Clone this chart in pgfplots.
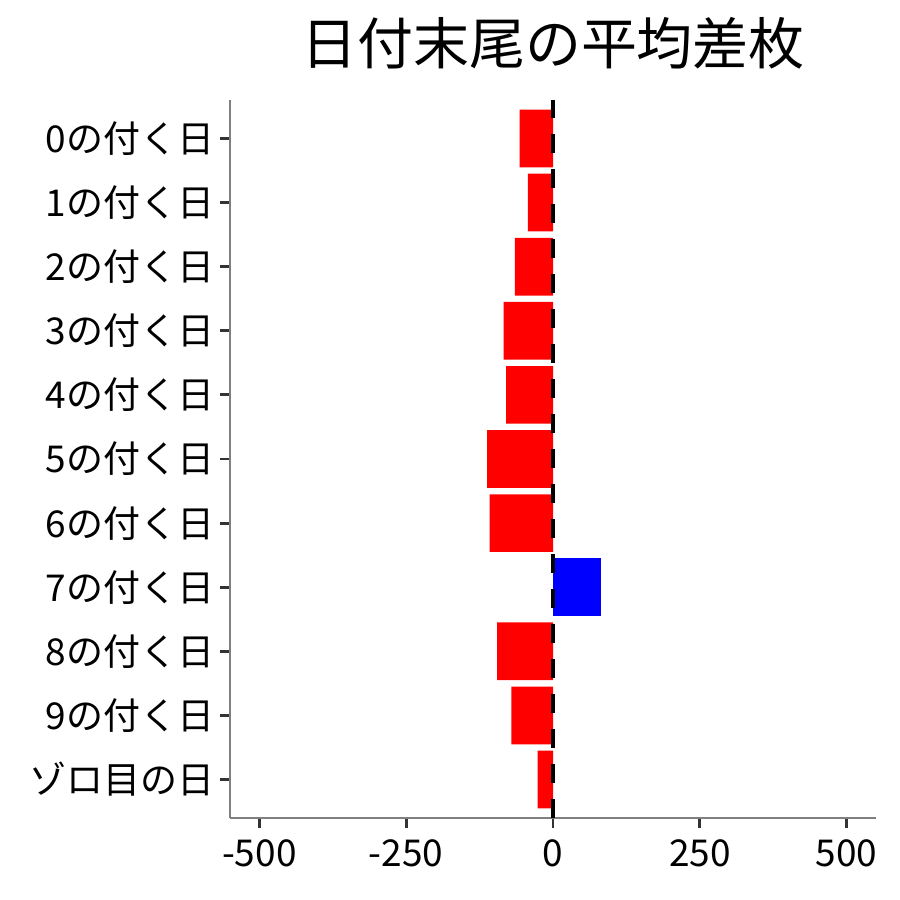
\documentclass[border=0pt]{standalone}
\usepackage{fontspec}
\setmainfont{Noto Sans CJK JP}
\usepackage{pgfplots}
\pgfplotsset{compat=1.18}
\definecolor{axisgray}{HTML}{808080}
\definecolor{tickgray}{HTML}{333333}
\begin{document}
\begin{tikzpicture}
\useasboundingbox (-230pt,-82pt) rectangle (670pt,818pt);
\begin{axis}[
    scale only axis,
    width=646pt, height=718pt,
    xmin=-550, xmax=550,
    ymin=0.4, ymax=11.6,
    y dir=reverse,
    axis x line*=bottom,
    axis y line*=left,
    axis line style={draw=axisgray, line width=1.3pt},
    tick align=outside,
    major tick length=10pt,
    tick style={draw=tickgray, line width=2.8pt},
    xtick={-500,-250,0,250,500},
    xticklabels={-500,-250,0,250,500},
    ytick={1,...,11},
    yticklabels={0の付く日,1の付く日,2の付く日,3の付く日,4の付く日,5の付く日,6の付く日,7の付く日,8の付く日,9の付く日,ゾロ目の日},
    ticklabel style={font=\fontsize{37}{44}\selectfont, text=black},
    yticklabel style={xshift=-2pt},
    xticklabel style={yshift=-8pt},
]
\addplot [xbar, bar width=0.9, bar shift=0pt, fill=red, draw=none]
    coordinates {(-57,1) (-43,2) (-65,3) (-84,4) (-80,5) (-112,6) (-108,7) (-95,9) (-71,10) (-26,11)};
\addplot [xbar, bar width=0.9, bar shift=0pt, fill=blue, draw=none]
    coordinates {(82,8)};
% dashed reference line at zero, on top of the bars
\addplot [draw=black, line width=4.4pt, dash pattern=on 19pt off 16pt, forget plot]
    coordinates {(0,11.6) (0,0.4)};
\end{axis}
\node[font=\fontsize{56}{64}\selectfont, anchor=center] at (323pt,775pt) {日付末尾の平均差枚};
\end{tikzpicture}
\end{document}
